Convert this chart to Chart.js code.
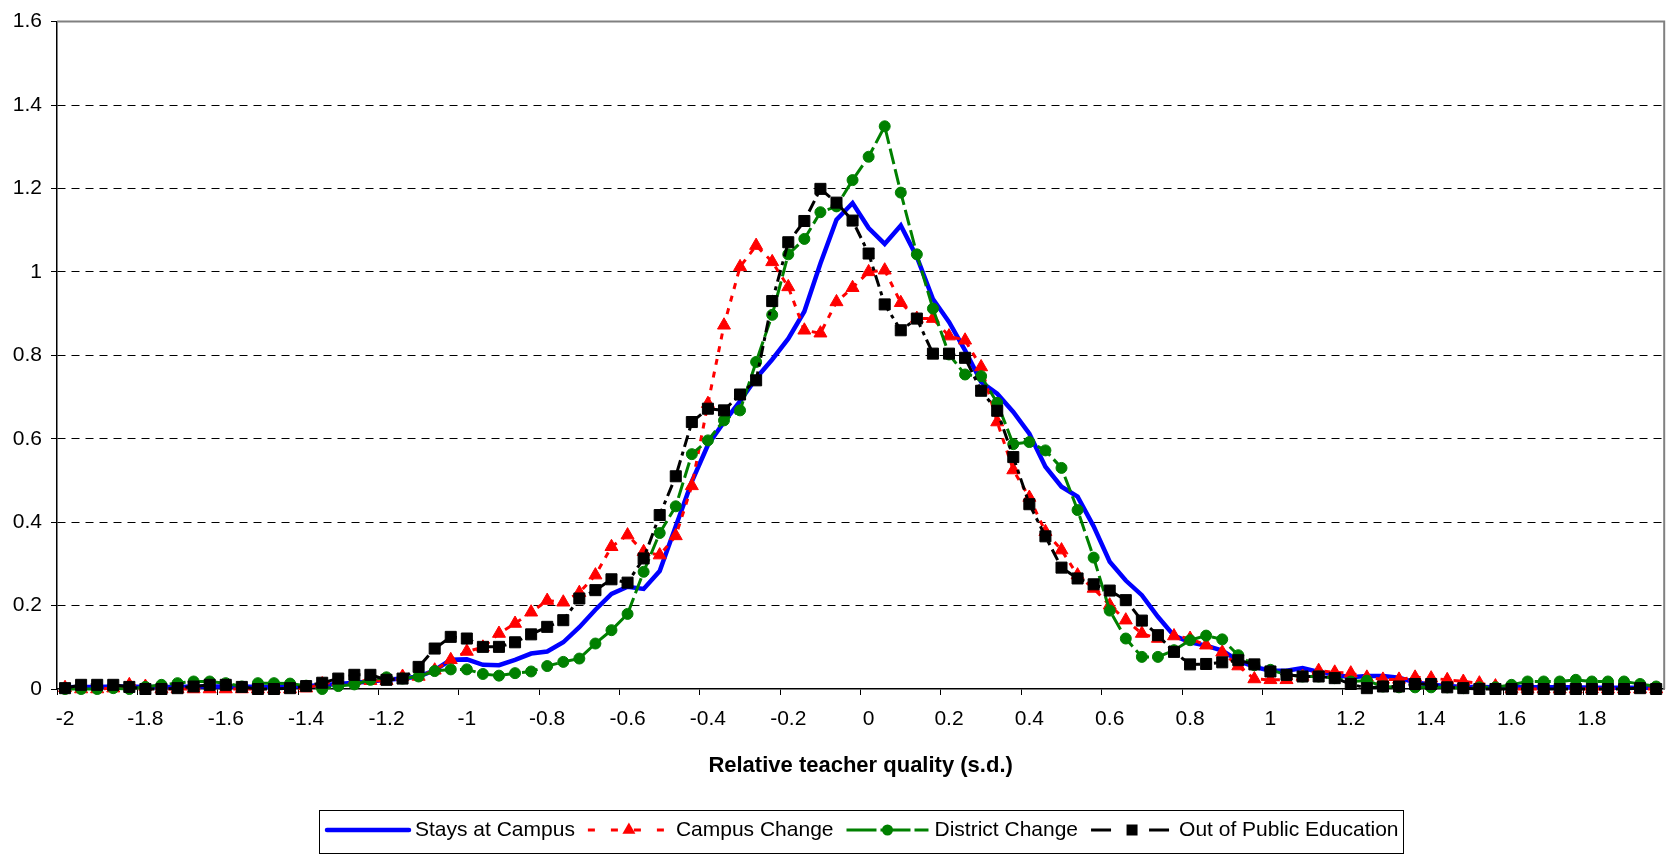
<!DOCTYPE html>
<html lang="en">
<head>
    <meta charset="UTF-8">
    <title>Relative teacher quality by mobility</title>
    <script src="https://cdn.jsdelivr.net/npm/chart.js"></script>
    <style>
        body { margin: 0; background: #fff; }
        #wrap { width: 1673px; height: 856px; }
    </style>
</head>
<body>
    <div id="wrap"><canvas id="qualityChart" width="1673" height="856"></canvas></div>

    <script>
        // x categories (s.d.), one every 0.04
        const categories = [
            -2, -1.96, -1.92, -1.88, -1.84, -1.8, -1.76, -1.72, -1.68, -1.64,
            -1.6, -1.56, -1.52, -1.48, -1.44, -1.4, -1.36, -1.32, -1.28, -1.24,
            -1.2, -1.16, -1.12, -1.08, -1.04, -1, -0.96, -0.92, -0.88, -0.84,
            -0.8, -0.76, -0.72, -0.68, -0.64, -0.6, -0.56, -0.52, -0.48, -0.44,
            -0.4, -0.36, -0.32, -0.28, -0.24, -0.2, -0.16, -0.12, -0.08, -0.04,
            0, 0.04, 0.08, 0.12, 0.16, 0.2, 0.24, 0.28, 0.32, 0.36,
            0.4, 0.44, 0.48, 0.52, 0.56, 0.6, 0.64, 0.68, 0.72, 0.76,
            0.8, 0.84, 0.88, 0.92, 0.96, 1, 1.04, 1.08, 1.12, 1.16,
            1.2, 1.24, 1.28, 1.32, 1.36, 1.4, 1.44, 1.48, 1.52, 1.56,
            1.6, 1.64, 1.68, 1.72, 1.76, 1.8, 1.84, 1.88, 1.92, 1.96
        ];
        const xTickLabels = ['-2', '-1.8', '-1.6', '-1.4', '-1.2', '-1', '-0.8', '-0.6', '-0.4', '-0.2',
                             '0', '0.2', '0.4', '0.6', '0.8', '1', '1.2', '1.4', '1.6', '1.8'];
        const yTicks = [0, 0.2, 0.4, 0.6, 0.8, 1, 1.2, 1.4, 1.6];

        const staysAtCampus = [
            0.004, 0.005, 0.005, 0.006, 0.006, 0.005, 0.005, 0.005, 0.006, 0.006,
            0.006, 0.006, 0.005, 0.005, 0.006, 0.007, 0.009, 0.012, 0.015, 0.018,
            0.022, 0.025, 0.030, 0.045, 0.070, 0.071, 0.058, 0.057, 0.070, 0.085,
            0.090, 0.112, 0.148, 0.190, 0.228, 0.245, 0.240, 0.283, 0.390, 0.497,
            0.585, 0.640, 0.690, 0.745, 0.790, 0.840, 0.905, 1.020, 1.125, 1.165,
            1.105, 1.067, 1.111, 1.036, 0.935, 0.880, 0.812, 0.736, 0.708, 0.664,
            0.612, 0.533, 0.485, 0.461, 0.390, 0.305, 0.260, 0.225, 0.173, 0.128,
            0.112, 0.104, 0.092, 0.068, 0.053, 0.044, 0.044, 0.050, 0.041, 0.034,
            0.028, 0.031, 0.031, 0.027, 0.016, 0.010, 0.007, 0.005, 0.005, 0.004,
            0.004, 0.004, 0.004, 0.004, 0.004, 0.003, 0.003, 0.003, 0.003, 0.003
        ];
        const campusChange = [
            0.003, 0, 0, 0.002, 0.010, 0.006, 0, 0, 0, 0,
            0, 0, 0, 0, 0, 0.002, 0.012, 0.018, 0.020, 0.020,
            0.020, 0.030, 0.030, 0.045, 0.070, 0.090, 0.100, 0.133, 0.157, 0.184,
            0.212, 0.208, 0.231, 0.273, 0.341, 0.369, 0.329, 0.321, 0.367, 0.487,
            0.684, 0.872, 1.012, 1.063, 1.024, 0.964, 0.860, 0.853, 0.928, 0.962,
            1.000, 1.004, 0.926, 0.888, 0.888, 0.846, 0.836, 0.772, 0.640, 0.525,
            0.459, 0.377, 0.333, 0.273, 0.241, 0.201, 0.165, 0.133, 0.121, 0.127,
            0.121, 0.105, 0.088, 0.055, 0.024, 0.022, 0.022, 0.030, 0.044, 0.040,
            0.038, 0.028, 0.023, 0.023, 0.028, 0.026, 0.022, 0.018, 0.014, 0.007,
            0, 0, 0, 0, 0, 0, 0, 0, 0, 0
        ];
        const districtChange = [
            0, 0, 0, 0.002, 0, 0.005, 0.010, 0.014, 0.018, 0.018,
            0.014, 0.006, 0.014, 0.014, 0.013, 0.008, 0, 0.007, 0.011, 0.022,
            0.028, 0.025, 0.030, 0.043, 0.047, 0.047, 0.036, 0.032, 0.038, 0.042,
            0.055, 0.065, 0.073, 0.109, 0.141, 0.180, 0.281, 0.374, 0.438, 0.563,
            0.596, 0.644, 0.668, 0.784, 0.897, 1.042, 1.079, 1.143, 1.157, 1.220,
            1.276, 1.349, 1.190, 1.042, 0.912, 0.802, 0.754, 0.750, 0.686, 0.587,
            0.592, 0.572, 0.530, 0.429, 0.315, 0.188, 0.121, 0.077, 0.077, 0.093,
            0.117, 0.128, 0.119, 0.081, 0.057, 0.046, 0.034, 0.030, 0.030, 0.026,
            0.018, 0.020, 0.006, 0.004, 0.004, 0.004, 0.004, 0.002, 0.004, 0.004,
            0.010, 0.018, 0.018, 0.018, 0.022, 0.018, 0.018, 0.018, 0.012, 0.006
        ];
        const outOfPublicEd = [
            0.002, 0.010, 0.010, 0.010, 0.005, 0, 0, 0.002, 0.006, 0.010,
            0.010, 0.005, 0, 0, 0.002, 0.007, 0.015, 0.025, 0.034, 0.034,
            0.022, 0.025, 0.053, 0.097, 0.125, 0.121, 0.101, 0.101, 0.112, 0.131,
            0.149, 0.165, 0.217, 0.237, 0.263, 0.255, 0.313, 0.417, 0.510, 0.640,
            0.672, 0.668, 0.706, 0.740, 0.930, 1.071, 1.122, 1.199, 1.166, 1.123,
            1.044, 0.922, 0.860, 0.888, 0.804, 0.804, 0.794, 0.715, 0.667, 0.556,
            0.443, 0.366, 0.291, 0.265, 0.251, 0.236, 0.213, 0.164, 0.129, 0.089,
            0.059, 0.060, 0.064, 0.069, 0.059, 0.042, 0.034, 0.030, 0.030, 0.026,
            0.012, 0.002, 0.006, 0.006, 0.012, 0.012, 0.004, 0.002, 0, 0,
            0, 0, 0, 0, 0, 0, 0, 0, 0.002, 0
        ];

        const FONT = "'Liberation Sans', Arial, sans-serif";

        // legend items drawn Excel style: line sample with marker in the middle
        const legendItems = [
            { text: 'Stays at Campus', color: '#0000ff', width: 4.5, dash: [], marker: null },
            { text: 'Campus Change', color: '#ff0000', width: 3, dash: [7, 16], marker: 'triangle' },
            { text: 'District Change', color: '#008000', width: 3, dash: [30, 4], marker: 'circle' },
            { text: 'Out of Public Education', color: '#000000', width: 3, dash: [20, 16, 6, 16], marker: 'rect' }
        ];

        function drawMarker(ctx, type, x, y, color) {
            ctx.save();
            ctx.fillStyle = color;
            ctx.setLineDash([]);
            ctx.beginPath();
            if (type === 'triangle') {
                ctx.moveTo(x, y - 7.5);
                ctx.lineTo(x + 6.5, y + 3.8);
                ctx.lineTo(x - 6.5, y + 3.8);
                ctx.closePath();
            } else if (type === 'circle') {
                ctx.arc(x, y, 5.5, 0, Math.PI * 2);
            } else if (type === 'rect') {
                ctx.rect(x - 5.5, y - 5.5, 11, 11);
            }
            ctx.fill();
            ctx.restore();
        }

        const framePlugin = {
            id: 'frame',
            beforeDatasetsDraw(chart) {
                const { ctx, chartArea: a } = chart;
                ctx.save();
                ctx.strokeStyle = '#808080';
                ctx.lineWidth = 2;
                ctx.beginPath();
                ctx.moveTo(a.left, a.top);
                ctx.lineTo(a.right, a.top);
                ctx.lineTo(a.right, a.bottom);
                ctx.stroke();
                ctx.restore();
            },
            afterDraw(chart) {
                const ctx = chart.ctx;
                ctx.save();
                ctx.strokeStyle = '#000';
                ctx.lineWidth = 1;
                ctx.strokeRect(319.5, 810.5, 1084, 43);
                ctx.font = '21px ' + FONT;
                ctx.textBaseline = 'middle';
                ctx.fillStyle = '#000';
                let x = 327;
                const y = 830;
                legendItems.forEach(item => {
                    ctx.save();
                    ctx.strokeStyle = item.color;
                    ctx.lineWidth = item.width;
                    ctx.lineCap = item.marker ? 'butt' : 'round';
                    ctx.setLineDash(item.dash);
                    ctx.beginPath();
                    ctx.moveTo(x, y);
                    ctx.lineTo(x + 82, y);
                    ctx.stroke();
                    ctx.restore();
                    if (item.marker) drawMarker(ctx, item.marker, x + 41, y, item.color);
                    ctx.fillText(item.text, x + 88, y);
                    x += 88 + ctx.measureText(item.text).width + 13;
                });
                ctx.restore();
            }
        };

        function series(label, data, color, width, dash, style, radius, order) {
            return {
                label: label,
                data: data,
                borderColor: color,
                backgroundColor: color,
                borderWidth: width,
                borderDash: dash,
                pointStyle: style,
                pointRadius: radius,
                pointBorderWidth: 1,
                pointBackgroundColor: color,
                pointBorderColor: color,
                tension: 0,
                clip: false,
                order: order
            };
        }

        const ctx = document.getElementById('qualityChart').getContext('2d');
        new Chart(ctx, {
            type: 'line',
            data: {
                labels: categories,
                datasets: [
                    series('Stays at Campus', staysAtCampus, '#0000ff', 4.5, [], 'circle', 0, 3),
                    series('Campus Change', campusChange, '#ff0000', 3, [6, 7], 'triangle', 7.5, 2),
                    series('District Change', districtChange, '#008000', 3, [16, 5], 'circle', 5.5, 1),
                    series('Out of Public Education', outOfPublicEd, '#000000', 3, [12, 5, 4, 5], 'rect', 7.8, 0)
                ]
            },
            options: {
                responsive: false,
                animation: false,
                layout: { padding: { top: 21, right: 4, left: 0, bottom: 0 } },
                plugins: {
                    legend: { display: false },
                    tooltip: { enabled: false }
                },
                scales: {
                    x: {
                        type: 'category',
                        offset: true,
                        afterFit(scale) { scale.height = 167; },
                        grid: {
                            offset: true,
                            drawOnChartArea: false,
                            tickLength: 6,
                            tickColor: c => (c.index % 5 === 0 ? '#000' : 'rgba(0,0,0,0)')
                        },
                        border: { color: '#000', width: 1.5 },
                        ticks: {
                            autoSkip: false,
                            maxRotation: 0,
                            minRotation: 0,
                            padding: 12,
                            color: '#000',
                            font: { family: FONT, size: 21 },
                            callback: (val, idx) => {
                                const lab = String(categories[idx]);
                                return xTickLabels.includes(lab) ? lab : '';
                            }
                        },
                        title: {
                            display: true,
                            text: 'Relative teacher quality (s.d.)',
                            color: '#000',
                            font: { family: FONT, size: 22, weight: 'bold' },
                            padding: { top: 0, bottom: 77 }
                        }
                    },
                    y: {
                        min: 0,
                        max: 1.6,
                        afterFit(scale) { scale.width = 57; },
                        afterBuildTicks(scale) { scale.ticks = yTicks.map(v => ({ value: v })); },
                        grid: {
                            color: c => (c.tick && (c.tick.value === 0 || c.tick.value >= 1.6) ? 'rgba(0,0,0,0)' : '#000'),
                            lineWidth: 1,
                            tickLength: 6,
                            tickColor: '#000'
                        },
                        border: { color: '#000', width: 1.5, dash: [8, 6] },
                        ticks: {
                            padding: 9,
                            color: '#000',
                            font: { family: FONT, size: 21 },
                            callback: v => String(+Number(v).toFixed(1))
                        }
                    }
                }
            },
            plugins: [framePlugin]
        });
    </script>
</body>
</html>
